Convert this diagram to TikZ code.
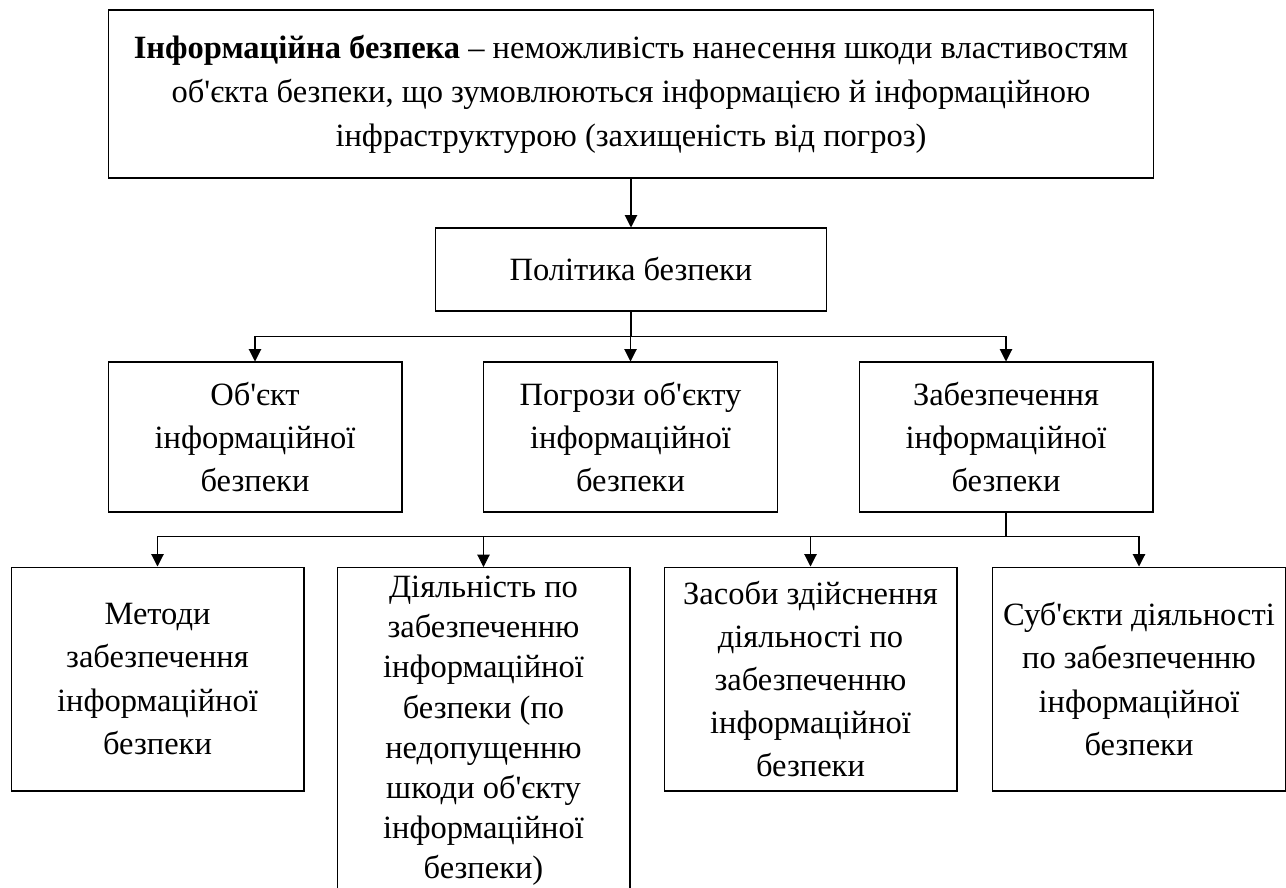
\documentclass[tikz,border=0pt]{standalone}
\usepackage{fontspec}
\setmainfont{Liberation Serif}[Ligatures=TeXOff]
\usepackage{tikz}
\usetikzlibrary{arrows.meta}

\tikzset{
  blok/.style={draw, align=center, inner sep=0pt, font=\fontsize{18.5}{24.5}\selectfont},
  serednij/.style={blok, minimum width=5.88cm, minimum height=3cm},
  nyzhnij/.style={blok, minimum width=5.86cm, minimum height=4.48cm},
  strilka/.style={-{Triangle[width=7pt,length=7pt]}}
}

\begin{document}
\begin{tikzpicture}[x=0.02cm,y=-0.02cm,line width=0.6pt]
			\useasboundingbox (0,0) rectangle (1286,887);
			% verkhnii riven
			\node[blok, minimum width=20.92cm, minimum height=3.36cm, font=\fontsize{18.5}{25}\selectfont] (vyzn) at (631,94) {\textbf{Інформаційна безпека} – неможливість нанесення шкоди властивостям\\об'єкта безпеки, що зумовлюються інформацією й інформаційною\\інфраструктурою (захищеність від погроз)};
			\node[blok, minimum width=7.84cm, minimum height=1.66cm] (polityka) at (631,269.5) {Політика безпеки};
			% druhyi riven
			\node[serednij] (obiekt) at (255,437) {Об'єкт\\інформаційної\\безпеки};
			\node[serednij] (pogrozy) at (630.5,437) {Погрози об'єкту\\інформаційної\\безпеки};
			\node[serednij] (zabezp) at (1006,437) {Забезпечення\\інформаційної\\безпеки};
			% tretii riven
			\node[nyzhnij] (metody) at (157.5,679) {Методи\\забезпечення\\інформаційної\\безпеки};
			\node[blok, minimum width=5.86cm, anchor=north, inner ysep=5pt, font=\fontsize{18.5}{22.8}\selectfont] (diialn) at (483.5,567) {Діяльність по\\забезпеченню\\інформаційної\\безпеки (по\\недопущенню\\шкоди об'єкту\\інформаційної\\безпеки)};
			\node[nyzhnij] (zasoby) at (810.5,679) {Засоби здійснення\\діяльності по\\забезпеченню\\інформаційної\\безпеки};
			\node[nyzhnij] (subiekty) at (1139,679) {Суб'єкти діяльності\\по забезпеченню\\інформаційної\\безпеки};
			% strilky
			\draw[strilka] (vyzn.south) -- (polityka.north);
			\foreach \n in {obiekt,pogrozy,zabezp}
				\draw[strilka] (polityka.south) -- ++(0,25) -| (\n.north);
			\foreach \n in {metody,diialn,zasoby,subiekty}
				\draw[strilka] (zabezp.south) -- ++(0,24) -| (\n.north);
		\end{tikzpicture}
\end{document}
